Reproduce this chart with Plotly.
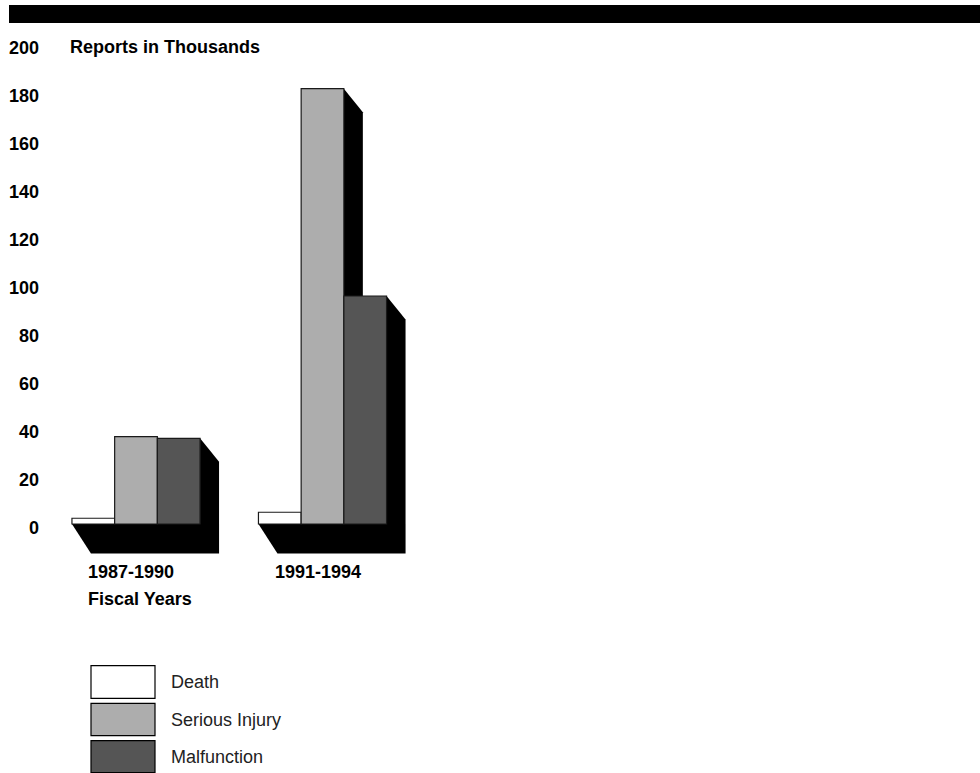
import plotly.graph_objects as go

# ---- data (reports, thousands) ----
periods = ["1987-1990", "1991-1994"]
series_names = ["Death", "Serious Injury", "Malfunction"]
death = [2.4, 4.9]
serious_injury = [36.4, 181.4]
malfunction = [35.7, 95.0]
y_ticks = [0, 20, 40, 60, 80, 100, 120, 140, 160, 180, 200]

series_values = [death, serious_injury, malfunction]
fills = ["#ffffff", "#adadad", "#555555"]

# ---- geometry of the drawing area ----
W, H = 980, 773
ML = 40                       # left margin holding the tick labels
GROUP_PX = 186.5              # pixels between group positions
BAR_PX = 42.7                 # bar width in pixels
FIRST_CENTER_PX = 136.0       # pixel position of the first group centre
ZERO_PX = 524.0               # pixel row of value 0
UNIT_PX = 2.4                 # pixels per thousand reports

x_min = (ML - FIRST_CENTER_PX) / GROUP_PX
x_max = (W - FIRST_CENTER_PX) / GROUP_PX
y_max = ZERO_PX / UNIT_PX
y_min = -(H - ZERO_PX) / UNIT_PX

bw = BAR_PX / GROUP_PX                 # bar width in x units
dx = 19.0 / GROUP_PX                   # depth offset of the extrusion (x)
dy = 23.5 / UNIT_PX                    # depth offset of the extrusion (y)
dyf = 29.5 / UNIT_PX                   # depth of the floor slab


def px_x(p):
    return (p - ML) / (W - ML)


def px_y(p):
    return 1 - p / H


xpos = list(range(len(periods)))
offsets = [(-1.5 + i) * bw for i in range(len(series_names))]

fig = go.Figure()

shapes = []
# black band across the top
shapes.append(dict(type="rect", xref="paper", yref="paper",
                   x0=px_x(9), x1=px_x(W + 5), y0=px_y(23), y1=px_y(5),
                   fillcolor="#000000", line=dict(width=0), layer="above"))

# extruded shadows and floor for every group
for g, xc in enumerate(xpos):
    left = xc + offsets[0]
    right = xc + offsets[-1] + bw
    floor = (f"M {left},0 L {left + dx},{-dyf} L {right + dx},{-dyf} "
             f"L {right + dx},0 L {right},0 Z")
    shapes.append(dict(type="path", xref="x", yref="y", path=floor,
                       fillcolor="#000000", line=dict(width=0), layer="below"))
    for s, vals in enumerate(series_values):
        top = vals[g]
        x1 = xc + offsets[s] + bw
        path = (f"M {x1},{top} L {x1 + dx},{top - dy} L {x1 + dx},0 "
                f"L {x1},0 Z")
        shapes.append(dict(type="path", xref="x", yref="y", path=path,
                           fillcolor="#000000", line=dict(width=0),
                           layer="below"))

for s, (name, vals, col) in enumerate(zip(series_names, series_values, fills)):
    fig.add_trace(go.Bar(
        x=xpos, y=vals, name=name,
        offset=offsets[s], width=bw,
        marker=dict(color=col, line=dict(color="#1a1a1a", width=1.2)),
        showlegend=False,
    ))

annotations = []
bold = dict(family="Liberation Sans, Arial, sans-serif", size=18,
            color="#000000", weight="bold")
regular = dict(family="Liberation Sans, Arial, sans-serif", size=18,
               color="#222222")

annotations.append(dict(text="Reports in Thousands", xref="paper", yref="paper",
                        x=px_x(68), y=px_y(47), xanchor="left",
                        yanchor="middle", showarrow=False, font=bold))

for g, label in enumerate(periods):
    annotations.append(dict(text=label, xref="x", yref="paper",
                            x=xpos[g] + offsets[0], xshift=14.5,
                            y=px_y(572), xanchor="left", yanchor="middle",
                            showarrow=False, font=bold))
annotations.append(dict(text="Fiscal Years", xref="x", yref="paper",
                        x=xpos[0] + offsets[0], xshift=14.5,
                        y=px_y(599), xanchor="left", yanchor="middle",
                        showarrow=False, font=bold))

# legend: large swatches with labels
box_rows = [(665.7, 698.3), (703.3, 735.7), (740.7, 772.5)]
for (t, b), name, col in zip(box_rows, series_names, fills):
    shapes.append(dict(type="rect", xref="paper", yref="paper",
                       x0=px_x(91), x1=px_x(155), y0=px_y(b), y1=px_y(t),
                       fillcolor=col, line=dict(color="#000000", width=1.2)))
    annotations.append(dict(text=name, xref="paper", yref="paper",
                            x=px_x(169), y=px_y((t + b) / 2),
                            xanchor="left", yanchor="middle",
                            showarrow=False, font=regular))

fig.update_layout(
    width=W, height=H,
    margin=dict(l=ML, r=0, t=0, b=0, pad=0),
    paper_bgcolor="#ffffff", plot_bgcolor="#ffffff",
    barmode="overlay",
    shapes=shapes, annotations=annotations,
    showlegend=False,
    xaxis=dict(range=[x_min, x_max], visible=False, fixedrange=True),
    yaxis=dict(range=[y_min, y_max], tickvals=y_ticks,
               ticktext=[str(v) for v in y_ticks],
               showgrid=False, zeroline=False, showline=False, ticks="",
               automargin=False, ticklabelshift=4, ticklabelstandoff=0,
               tickfont=bold, fixedrange=True),
)

fig.write_html("out.html")
